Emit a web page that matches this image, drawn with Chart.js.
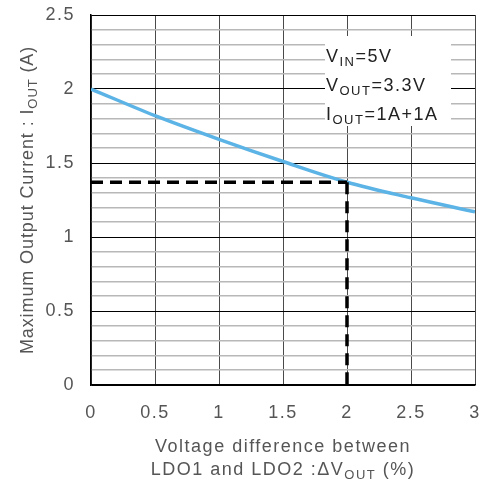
<!DOCTYPE html>
<html><head><meta charset="utf-8">
<script src="https://cdn.jsdelivr.net/npm/chart.js@4.4.0/dist/chart.umd.min.js"></script>
<style>html,body{margin:0;padding:0;background:#fff}#wrap{width:484px;height:483px}</style>
</head><body><div id="wrap"><canvas id="c" width="484" height="483"></canvas></div>
<script>
const deltaV = [0, 0.5, 1, 1.5, 2, 2.5, 3];
const maxCurrent = [2.0, 1.82, 1.66, 1.51, 1.37, 1.265, 1.17];
const markX = 2;
const markY = 1.37;
const xTicks = [0, 0.5, 1, 1.5, 2, 2.5, 3];
const yTicks = [0, 0.5, 1, 1.5, 2, 2.5];
const conditions = [["V","IN","=5V"],["V","OUT","=3.3V"],["I","OUT","=1A+1A"]];

const FONT = "'Liberation Sans', Arial, sans-serif";
const LS = '1.5px';

function drawSub(ctx, parts, x, y, size, align) {
  const subSize = Math.round(size*0.72);
  ctx.font = size+"px "+FONT;
  const w1 = ctx.measureText(parts[0]).width;
  const w3 = ctx.measureText(parts[2]).width;
  ctx.font = subSize+"px "+FONT;
  const w2 = ctx.measureText(parts[1]).width;
  const total = w1+w2+w3;
  let sx = align==='center' ? x-total/2 : x;
  ctx.textAlign='left'; ctx.textBaseline='alphabetic';
  ctx.font = size+"px "+FONT; ctx.fillText(parts[0], sx, y);
  ctx.font = subSize+"px "+FONT; ctx.fillText(parts[1], sx+w1, y+size*0.24);
  ctx.font = size+"px "+FONT; ctx.fillText(parts[2], sx+w1+w2, y);
}

const annot = {
  id:'annot',
  beforeUpdate(chart){ chart.ctx.letterSpacing = LS; },
  beforeDraw(chart){ chart.ctx.letterSpacing = LS; },
  beforeDatasetsDraw(chart){
    const ctx = chart.ctx;
    ctx.save();
    ctx.letterSpacing = LS;
    ctx.fillStyle='#fff';
    ctx.fillRect(325, 36, 126, 90);
    ctx.fillStyle='#222';
    conditions.forEach((c,i)=>drawSub(ctx, c, 326, 62+i*29, 18, 'left'));
    ctx.restore();
  },
  afterDraw(chart){
    const ctx = chart.ctx, ca = chart.chartArea;
    ctx.save();
    ctx.letterSpacing = '0.9px';
    ctx.fillStyle='#555';
    ctx.translate(33, (ca.top+ca.bottom)/2);
    ctx.rotate(-Math.PI/2);
    drawSub(ctx, ["Maximum Output Current : I","OUT"," (A)"], 0, 0, 18, 'center');
    ctx.restore();
    ctx.save();
    ctx.letterSpacing = LS;
    ctx.fillStyle='#555';
    const cx=(ca.left+ca.right)/2;
    ctx.font = "18px "+FONT; ctx.textAlign='center'; ctx.textBaseline='alphabetic';
    ctx.fillText("Voltage difference between", cx, 452);
    drawSub(ctx, ["LDO1 and LDO2 :\u0394V","OUT"," (%)"], cx, 475, 18, 'center');
    ctx.restore();
  }
};

new Chart(document.getElementById('c'), {
  type:'line',
  data:{datasets:[
    {data: deltaV.map((x,i)=>({x, y:maxCurrent[i]})), borderColor:'#5cb3e6', borderWidth:3.5, pointRadius:0, cubicInterpolationMode:'monotone', order:2},
    {data:[{x:0,y:markY},{x:markX,y:markY}], borderColor:'#000', borderWidth:3.5, borderDash:[12,7], pointRadius:0, order:1},
    {data:[{x:markX,y:markY},{x:markX,y:0}], borderColor:'#000', borderWidth:3.5, borderDash:[12,7], pointRadius:0, order:1}
  ]},
  options:{
    responsive:false, animation:false,
    layout:{padding:{left:0,right:9,top:15,bottom:0}},
    plugins:{legend:{display:false}, tooltip:{enabled:false}},
    scales:{
      x:{type:'linear', min:xTicks[0], max:xTicks[xTicks.length-1],
        afterFit(s){s.height=98; s.paddingLeft=0; s.paddingRight=0;},
        ticks:{stepSize:0.5, padding:17, color:'#555', font:{family:FONT,size:18},
          callback:v=>String(v)},
        grid:{color:'#4a4a4a', lineWidth:1, drawTicks:false},
        border:{color:'#000', width:1.5}
      },
      y:{min:yTicks[0], max:yTicks[yTicks.length-1],
        afterFit(s){s.width=91; s.paddingTop=0; s.paddingBottom=0;},
        ticks:{stepSize:0.1, autoSkip:false, padding:16, color:'#555', font:{family:FONT,size:18},
          callback:v=>{const r=Math.round(v*10); return r%5===0 ? String(r/10) : '';}},
        grid:{drawTicks:false, color:c=>{const r=Math.round(c.tick.value*10); return r%5===0?'#000':'#b8b8b8';},
          lineWidth:c=>{const r=Math.round(c.tick.value*10); return r%5===0?1:1.5;}},
        border:{color:'#000', width:1.5}
      }
    }
  },
  plugins:[annot]
});
</script></body></html>
